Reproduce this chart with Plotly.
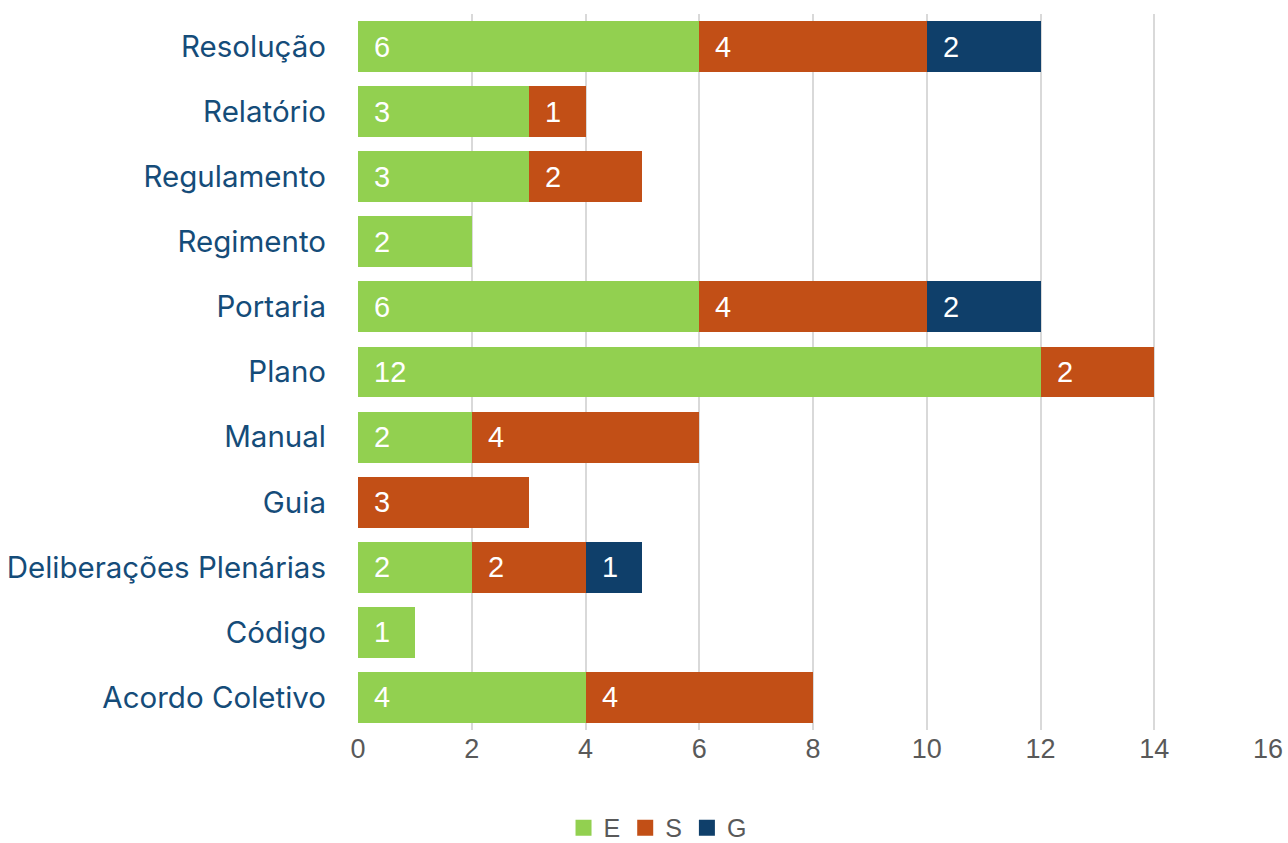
import plotly.graph_objects as go

categories = ["Acordo Coletivo", "Código", "Deliberações Plenárias", "Guia", "Manual",
              "Plano", "Portaria", "Regimento", "Regulamento", "Relatório", "Resolução"]
E = [4, 1, 2, 0, 2, 12, 6, 2, 3, 3, 6]
S = [4, 0, 2, 3, 4, 2, 4, 0, 2, 1, 4]
G = [0, 0, 1, 0, 0, 0, 2, 0, 0, 0, 2]
x_ticks = [0, 2, 4, 6, 8, 10, 12, 14, 16]

series = [("E", E, "#92D050"), ("S", S, "#C24F16"), ("G", G, "#0F3F6A")]

fig = go.Figure()
for name, vals, color in series:
    fig.add_trace(go.Bar(
        y=categories, x=vals, name=name, orientation="h",
        marker=dict(color=color, line=dict(width=0)),
        hoverinfo="x+name", showlegend=False,
    ))
# legend entries with larger square swatches
for name, vals, color in series:
    fig.add_trace(go.Scatter(
        x=[None], y=[None], mode="markers", name=name,
        marker=dict(symbol="square", size=20, color=color),
        showlegend=True,
    ))

# data labels at the left of each segment
annotations = []
base = [0] * len(categories)
for name, vals, color in series:
    for i, v in enumerate(vals):
        if v > 0:
            annotations.append(dict(
                x=base[i], y=categories[i], xref="x", yref="y",
                text=str(v), showarrow=False, xanchor="left", xshift=14,
                font=dict(family="Liberation Sans, Arial", size=29, color="white"),
            ))
        base[i] += v

fig.update_layout(
    width=1288, height=843,
    margin=dict(l=358, r=20, t=14, b=113),
    barmode="stack", bargap=0.217,
    plot_bgcolor="white", paper_bgcolor="white",
    annotations=annotations,
    showlegend=True,
    legend=dict(orientation="h", x=0.5105, xanchor="center", xref="container",
                y=0.0178, yanchor="middle", yref="container",
                font=dict(family="Liberation Sans, Arial", size=25, color="#595959"),
                itemwidth=30, traceorder="normal"),
    xaxis=dict(range=[0, 16], tickvals=x_ticks, showgrid=True, gridcolor="#D9D9D9",
               gridwidth=2, zeroline=False, showline=False, ticks="",
               tickfont=dict(family="Liberation Sans, Arial", size=27, color="#595959"),
               ticklabelstandoff=0, fixedrange=True, automargin=False,
               ticklabeloverflow="allow"),
    yaxis=dict(categoryorder="array", categoryarray=categories, showgrid=False,
               tickfont=dict(family="Inter, Open Sans", size=29.5, color="#154C79"),
               ticks="", ticklabelstandoff=31, showline=False, automargin=False),
)

fig.write_html("out.html", config={"displayModeBar": False},
               post_script="document.body.style.margin='0';")
